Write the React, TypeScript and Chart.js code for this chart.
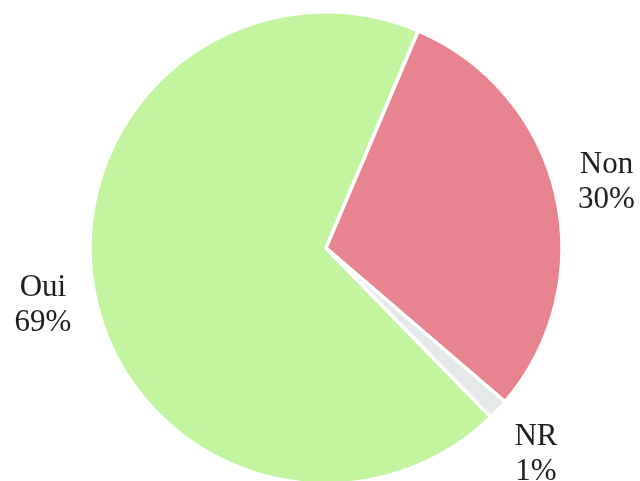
import React, { useEffect, useRef } from "react";
import { Chart, registerables } from "chart.js";

Chart.register(...registerables);

const categories = ["Oui", "Non", "NR"];
const values = [68.7, 29.9, 1.4];
const percentLabels = ["69%", "30%", "1%"];
const colors = ["#c3f5a1", "#e8848f", "#e5e9e9"];

const outerLabels = {
  id: "outerLabels",
  afterDraw(chart: any) {
    const ctx = chart.ctx;
    const meta = chart.getDatasetMeta(0);
    ctx.save();
    ctx.font = "31px 'Liberation Serif', 'Times New Roman', serif";
    ctx.fillStyle = "#1e1e1e";
    ctx.textAlign = "center";
    ctx.textBaseline = "alphabetic";
    meta.data.forEach((arc: any, i: number) => {
      const { x, y, startAngle, endAngle, outerRadius } = arc.getProps(
        ["x", "y", "startAngle", "endAngle", "outerRadius"],
        true
      );
      const mid = (startAngle + endAngle) / 2;
      const dx = Math.cos(mid);
      const dy = Math.sin(mid);
      const r = outerRadius + 34;
      const cx = x + dx * (r + 18);
      const cy = y + dy * (r + 28);
      ctx.fillText(categories[i], cx, cy - 7);
      ctx.fillText(percentLabels[i], cx, cy + 28);
    });
    ctx.restore();
  },
};

export default function App() {
  const ref = useRef<HTMLCanvasElement>(null);
  useEffect(() => {
    if (!ref.current) return;
    const chart = new Chart(ref.current, {
      type: "pie",
      data: {
        labels: categories,
        datasets: [
          {
            data: values,
            backgroundColor: colors,
            borderColor: "#ffffff",
            borderWidth: 3.5,
          },
        ],
      },
      options: {
        responsive: false,
        animation: false,
        rotation: 135.7,
        radius: 236,
        layout: { padding: { left: 12, right: 0, top: 15, bottom: 0 } },
        plugins: {
          legend: { display: false },
          tooltip: { enabled: false },
        },
      },
      plugins: [outerLabels],
    });
    return () => chart.destroy();
  }, []);
  return (
    <div style={{ position: "fixed", left: 0, top: 0, width: 640, height: 481, background: "#fff" }}>
      <canvas ref={ref} width={640} height={481} style={{ width: 640, height: 481 }} />
    </div>
  );
}
